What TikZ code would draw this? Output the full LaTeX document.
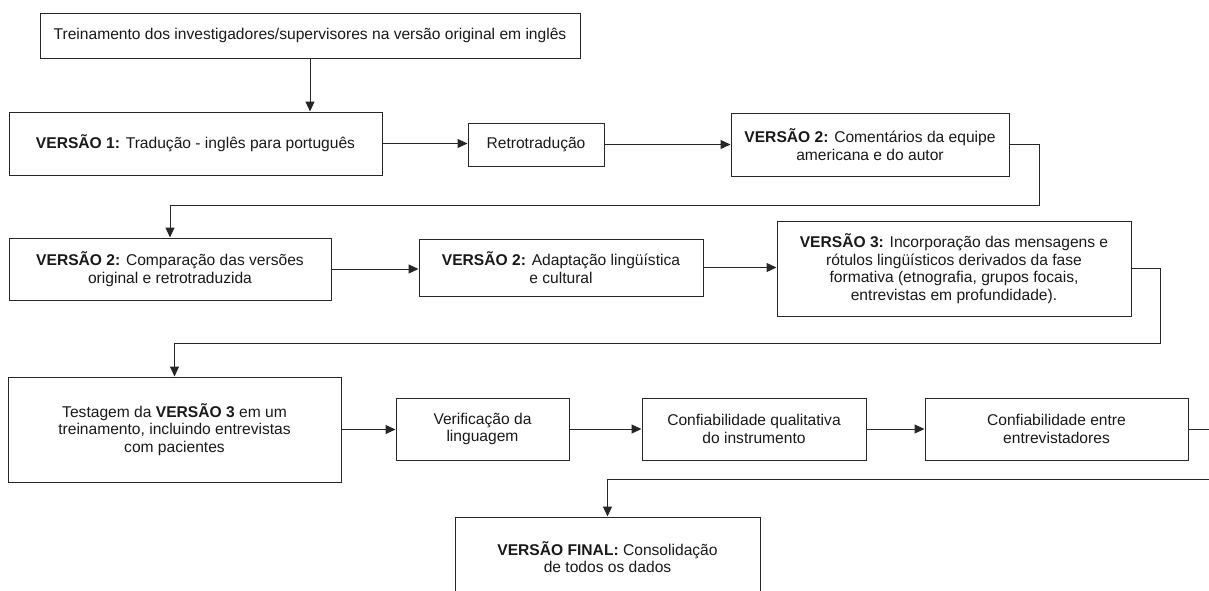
\documentclass[tikz,border=0pt]{standalone}
\usepackage{fontspec}
\setmainfont{Liberation Sans}
\usetikzlibrary{arrows.meta}
\begin{document}
\begin{tikzpicture}[x=1pt,y=-1pt,
  box/.style={draw=black!85,line width=1pt,inner sep=0pt,align=center,
    font=\fontsize{15.6}{17.6}\selectfont,text=black!90},
  arr/.style={draw=black!85,line width=1pt,-{Triangle[length=10pt,width=9pt]}},
  ln/.style={draw=black!85,line width=1pt}]
\useasboundingbox (0,0) rectangle (1209,590);
\clip (0,0) rectangle (1209,590);
\node[box,minimum width=540pt,minimum height=45pt] (A) at (310,35.5)
  {Treinamento dos investigadores/supervisores na versão original em inglês};
\node[box,minimum width=373pt,minimum height=63pt] (V1) at (195.5,143.5)
  {\raisebox{3pt}{\textbf{VERSÃO 1:} Tradução - inglês para português}};
\node[box,minimum width=136pt,minimum height=43pt] (R) at (536,144.5)
  {Retrotradução};
\node[box,minimum width=278pt,minimum height=63pt] (V2c) at (870,144.5)
  {\textbf{VERSÃO 2:} Comentários da equipe\\americana e do autor};
\node[box,minimum width=322pt,minimum height=62pt] (V2cmp) at (170,269)
  {\textbf{VERSÃO 2:} Comparação das versões\\original e retrotraduzida};
\node[box,minimum width=284pt,minimum height=57pt] (V2a) at (561,267.5)
  {\textbf{VERSÃO 2:} Adaptação lingüística\\e cultural};
\node[box,minimum width=354pt,minimum height=95pt] (V3) at (954,268.5)
  {\textbf{VERSÃO 3:} Incorporação das mensagens e\\rótulos lingüísticos derivados da fase\\formativa (etnografia, grupos focais,\\entrevistas em profundidade).};
\node[box,minimum width=333pt,minimum height=105pt] (T) at (174.5,429.5)
  {Testagem da \textbf{VERSÃO 3} em um\\treinamento, incluindo entrevistas\\com pacientes};
\node[box,minimum width=173pt,minimum height=62pt] (Ve) at (482.5,429)
  {Verificação da\\linguagem};
\node[box,minimum width=224pt,minimum height=62pt] (CQ) at (754,429)
  {Confiabilidade qualitativa\\do instrumento};
\node[box,minimum width=263pt,minimum height=62pt] (CE) at (1056.5,429)
  {Confiabilidade entre\\entrevistadores};
\node[box,minimum width=305pt,minimum height=80pt] (F) at (607.5,557)
  {\textbf{VERSÃO FINAL:} Consolidação\\de todos os dados};
\coordinate (c1) at (1039,205);
\coordinate (c2) at (1160,343);
\coordinate (e1) at (1212,429);
\coordinate (e2) at (1212,479);
\draw[arr] (A.south) -- (A.south |- V1.north);
\draw[arr] (V1.east) -- (V1.east -| R.west);
\draw[arr] (R.east) -- (R.east -| V2c.west);
\draw[arr] (V2c.east) -| (c1) -| (V2cmp.north);
\draw[arr] (V2cmp.east) -- (V2cmp.east -| V2a.west);
\draw[arr] (V2a.east) -- (V2a.east -| V3.west);
\draw[arr] (V3.east) -| (c2) -| (T.north);
\draw[arr] (T.east) -- (T.east -| Ve.west);
\draw[arr] (Ve.east) -- (CQ.west);
\draw[arr] (CQ.east) -- (CE.west);
\draw[ln] (CE.east) -- (e1);
\draw[arr] (e2) -| (F.north);
\end{tikzpicture}
\end{document}
